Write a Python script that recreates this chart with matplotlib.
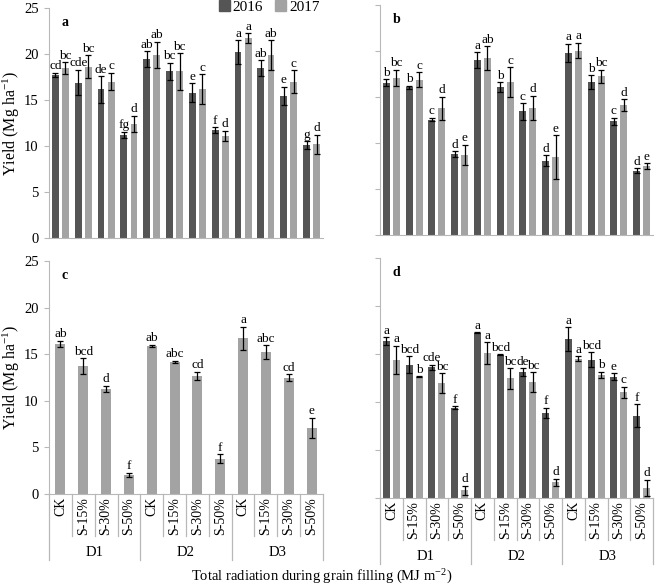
import matplotlib
matplotlib.use("Agg")
import matplotlib.pyplot as plt
import numpy as np
from matplotlib.transforms import blended_transform_factory

plt.rcParams["font.family"] = ["Liberation Serif", "DejaVu Serif"]
plt.rcParams["mathtext.fontset"] = "custom"
plt.rcParams["mathtext.rm"] = "Liberation Serif"
plt.rcParams["mathtext.it"] = "Liberation Serif:italic"

treatments = ["CK", "S-15%", "S-30%", "S-50%"]
sites = ["D1", "D2", "D3"]
years = ["2016", "2017"]

# panel a
a_2016 = [17.75, 16.9, 16.15, 11.2, 19.45, 18.1, 15.8, 11.75, 20.2, 18.5, 15.45, 10.1]
a_2016_err = [0.2, 1.4, 1.45, 0.35, 0.85, 0.95, 1.0, 0.3, 1.3, 0.85, 1.0, 0.4]
a_2017 = [18.45, 18.6, 17.0, 12.4, 19.9, 18.1, 16.2, 11.1, 21.7, 19.9, 17.0, 10.2]
a_2017_err = [0.65, 1.25, 0.95, 0.9, 1.45, 2.0, 1.6, 0.55, 0.55, 1.6, 1.25, 1.05]
a_let_2016 = ["cd", "cde", "de", "fg", "ab", "bc", "e", "f", "a", "ab", "e", "g"]
a_let_2017 = ["bc", "bc", "c", "d", "ab", "bc", "c", "d", "a", "ab", "c", "d"]

# panel b
b_2016 = [16.55, 16.05, 12.55, 8.8, 19.0, 16.05, 13.45, 8.05, 19.8, 16.65, 12.35, 7.0]
b_2016_err = [0.4, 0.18, 0.2, 0.3, 0.85, 0.55, 0.9, 0.6, 1.0, 0.75, 0.4, 0.25]
b_2017 = [17.05, 16.9, 13.8, 8.7, 19.2, 16.6, 13.85, 8.45, 20.05, 17.25, 14.1, 7.5]
b_2017_err = [0.9, 0.8, 1.25, 1.1, 1.3, 1.65, 1.3, 2.4, 0.85, 0.7, 0.65, 0.33]
b_let_2016 = ["b", "b", "c", "d", "a", "b", "c", "d", "a", "b", "c", "d"]
b_let_2017 = ["bc", "c", "d", "e", "ab", "c", "d", "e", "a", "bc", "d", "e"]

# panel c (2017 only)
c_2017 = [16.1, 13.7, 11.3, 2.05, 15.9, 14.2, 12.7, 3.8, 16.7, 15.2, 12.5, 7.1]
c_2017_err = [0.35, 0.85, 0.33, 0.25, 0.1, 0.1, 0.43, 0.5, 1.25, 0.75, 0.36, 1.1]
c_let = ["ab", "bcd", "d", "f", "ab", "abc", "cd", "f", "a", "abc", "cd", "e"]

# panel d
d_2016 = [16.35, 13.9, 13.6, 9.4, 17.2, 14.9, 13.1, 8.9, 16.55, 14.4, 12.65, 8.55]
d_2016_err = [0.42, 0.9, 0.28, 0.17, 0.05, 0.05, 0.42, 0.52, 1.25, 0.77, 0.35, 1.2]
d_2017 = [14.4, 12.65, 11.95, 0.8, 15.1, 12.45, 12.05, 1.65, 14.5, 12.8, 11.0, 1.05]
d_2017_err = [1.45, 0.05, 1.05, 0.5, 1.1, 1.05, 1.05, 0.35, 0.28, 0.35, 0.6, 0.85]
d_let_2016 = ["a", "bcd", "cde", "f", "a", "bcd", "de", "f", "a", "bcd", "e", "f"]
d_let_2017 = ["a", "b", "bc", "d", "a", "bc", "bc", "d", "a", "b", "c", "d"]

dark = "#555555"
light = "#a3a3a3"
spine_col = "#b8b8b8"
W, H = 658, 588

fig = plt.figure(figsize=(W / 100, H / 100), dpi=100)


def make_ax(left, right, top, bottom):
    ax = fig.add_axes([left / W, 1 - bottom / H, (right - left) / W, (bottom - top) / H])
    ax.set_xlim(-0.5, 11.5)
    ax.set_ylim(0, 25)
    ax.set_yticks([0, 5, 10, 15, 20, 25])
    for s in ["top", "right"]:
        ax.spines[s].set_visible(False)
    for s in ["left", "bottom"]:
        ax.spines[s].set_color(spine_col)
    ax.tick_params(axis="y", direction="out", length=3.5, color=spine_col,
                   labelsize=10.5, pad=4)
    ax.set_xticks([])
    return ax


def bars(ax, vals, errs, color, offset, width, letters):
    x = np.arange(len(vals)) + offset
    ax.bar(x, vals, width=width, color=color, zorder=2)
    ax.errorbar(x, vals, yerr=errs, fmt="none", ecolor="black", elinewidth=0.9,
                capsize=2.3, capthick=0.9, zorder=3)
    for xi, v, e, t in zip(x, vals, errs, letters):
        ax.annotate(t, (xi, v + e), xytext=(0, 0.3), textcoords="offset points",
                    ha="center", va="bottom", fontsize=9.5)


def cat_axis(ax):
    h = ax.get_position().height * H
    tr = blended_transform_factory(ax.transData, ax.transAxes)
    n = len(sites) * len(treatments)
    for i in range(n + 1):
        xb = i - 0.5
        long_line = i % len(treatments) == 0
        depth = 66 if long_line else 42
        ax.plot([xb, xb], [0, -depth / h], transform=tr, color=spine_col,
                lw=0.9, clip_on=False)
    for i in range(n):
        ax.text(i, -3 / h, treatments[i % len(treatments)], transform=tr,
                rotation=90, ha="center", va="top", fontsize=10)
    for j, s in enumerate(sites):
        xc = j * len(treatments) + (len(treatments) - 1) / 2
        ax.text(xc, -58 / h, s, transform=tr, ha="center", va="center", fontsize=10.5)


ax_a = make_ax(49, 323, 8, 238)
ax_b = make_ax(380, 653, 5, 235)
ax_c = make_ax(49, 323, 261, 494)
ax_d = make_ax(380, 653, 258, 498)

off, bw = 0.22, 0.3
bars(ax_a, a_2016, a_2016_err, dark, -off, bw, a_let_2016)
bars(ax_a, a_2017, a_2017_err, light, off, bw, a_let_2017)
bars(ax_b, b_2016, b_2016_err, dark, -off, bw, b_let_2016)
bars(ax_b, b_2017, b_2017_err, light, off, bw, b_let_2017)
bars(ax_c, c_2017, c_2017_err, light, 0, 0.44, c_let)
bars(ax_d, d_2016, d_2016_err, dark, -off, bw, d_let_2016)
bars(ax_d, d_2017, d_2017_err, light, off, bw, d_let_2017)

ax_b.tick_params(axis="y", labelleft=False)
ax_d.tick_params(axis="y", labelleft=False)

cat_axis(ax_c)
cat_axis(ax_d)

for ax, lab in zip([ax_a, ax_b, ax_c, ax_d], ["a", "b", "c", "d"]):
    ax.text(0.045, 0.965, lab, transform=ax.transAxes, fontweight="bold",
            fontsize=10, ha="left", va="top")

handles = [plt.Rectangle((0, 0), 1, 1, color=dark), plt.Rectangle((0, 0), 1, 1, color=light)]
ax_a.legend(handles, years, loc="upper right", bbox_to_anchor=(1.01, 1.06), ncol=2,
            frameon=False, fontsize=11, handlelength=0.7, handleheight=0.7,
            handletextpad=0.2, columnspacing=0.8, borderaxespad=0)

ylab = "Yield (Mg ha$^{\\mathrm{-1}}$)"
fig.text(11 / W, 1 - 123 / H, ylab, rotation=90, ha="center", va="center", fontsize=11.5)
fig.text(11 / W, 1 - 377 / H, ylab, rotation=90, ha="center", va="center", fontsize=11.5)
fig.text(322 / W, 1 - 577 / H, "Total radiation during grain filling (MJ m$^{\\mathrm{-2}}$)",
         ha="center", va="center", fontsize=10.5)

fig.savefig("out.png", dpi=100)
